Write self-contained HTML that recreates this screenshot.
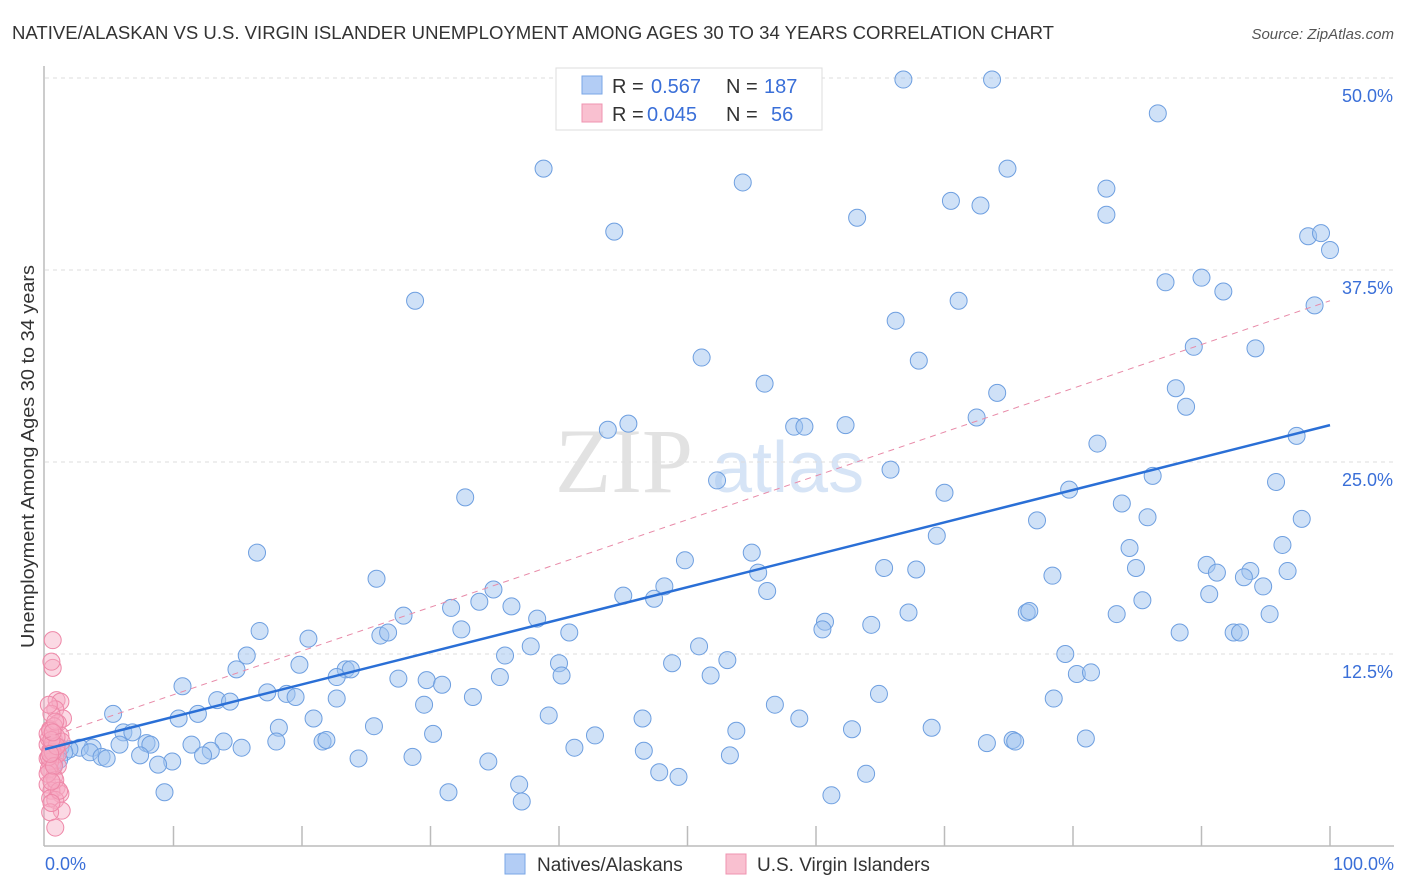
<!DOCTYPE html>
<html><head><meta charset="utf-8"><style>
body{margin:0;background:#fff;font-family:"Liberation Sans",sans-serif}
#wrap{position:relative;width:1406px;height:892px;overflow:hidden}
</style></head><body>
<div id="wrap">
<svg id="chart" width="1406" height="892" xmlns="http://www.w3.org/2000/svg">
<text x="12" y="39" font-size="18" fill="#333" textLength="1042" lengthAdjust="spacingAndGlyphs">NATIVE/ALASKAN VS U.S. VIRGIN ISLANDER UNEMPLOYMENT AMONG AGES 30 TO 34 YEARS CORRELATION CHART</text>
<text x="1394" y="39" font-size="15" fill="#555" font-style="italic" text-anchor="end">Source: ZipAtlas.com</text>
<text transform="translate(34,648) rotate(-90)" font-size="18" fill="#333" textLength="383" lengthAdjust="spacingAndGlyphs">Unemployment Among Ages 30 to 34 years</text>
<g>
<text x="555" y="492" font-size="92" fill="#e2e2e2" font-family="Liberation Serif, serif">ZIP</text>
<text x="712" y="492" font-size="72" fill="#d6e4f6">atlas</text>
</g>
<g id="grid"></g><g id="axes"></g><g id="marks"></g><g id="trends"></g>
<g>
<rect x="556" y="68" width="266" height="62" fill="#fff" stroke="#ddd"/>
<rect x="582" y="76" width="20" height="18" fill="#b3cdf5" stroke="#7aa6e6"/>
<text x="612" y="93" font-size="20" fill="#333">R = </text><text x="651" y="93" font-size="20" fill="#3a6fd8">0.567</text>
<text x="726" y="93" font-size="20" fill="#333">N = </text><text x="764" y="93" font-size="20" fill="#3a6fd8">187</text>
<rect x="582" y="104" width="20" height="18" fill="#f9c0d0" stroke="#ef93b0"/>
<text x="612" y="121" font-size="20" fill="#333">R = </text><text x="647" y="121" font-size="20" fill="#3a6fd8">0.045</text>
<text x="726" y="121" font-size="20" fill="#333">N = </text><text x="771" y="121" font-size="20" fill="#3a6fd8">56</text>
</g>
<g>
<rect x="505" y="854" width="20" height="20" fill="#b3cdf5" stroke="#7aa6e6"/>
<text x="537" y="871" font-size="19" fill="#333">Natives/Alaskans</text>
<rect x="726" y="854" width="20" height="20" fill="#f9c0d0" stroke="#ef93b0"/>
<text x="757" y="871" font-size="19" fill="#333">U.S. Virgin Islanders</text>
</g>
</svg>
</div>
<script>
const yTicks=[12.5,25,37.5,50];
const yTickLabels=["12.5%","25.0%","37.5%","50.0%"];
const xTickValues=[0,10,20,30,40,50,60,70,80,90,100];
const xEndLabels=["0.0%","100.0%"];
const nativesX=[66.8,73.7,86.6,38.8,54.3,74.9,82.6,70.5,72.8,63.2,82.6,44.3,98.3,99.3,100,87.2,90.0,91.7,28.8,71.1,98.8,66.2,89.4,94.2,51.1,68.0,56.0,74.1,88.0,88.8,72.5,45.4,43.8,58.3,59.1,62.3,97.4,81.9,65.8,86.2,52.3,95.8,79.7,32.7,70.0,83.8,85.8,77.2,97.8,69.4,84.4,96.3,16.5,55.0,49.8,65.3,67.8,84.9,78.4,90.4,91.2,93.8,93.3,96.7,55.5,25.8,94.8,48.2,34.9,56.2,90.6,45.0,47.4,33.8,85.4,36.3,31.6,27.9,38.3,67.2,76.4,76.6,83.4,95.3,60.7,60.5,64.3,32.4,16.7,40.8,26.1,26.7,88.3,92.5,93.0,20.5,37.8,50.9,79.4,35.8,15.7,53.1,19.8,40.0,48.8,14.9,23.4,23.8,40.2,80.3,81.4,22.7,27.5,29.7,30.9,35.4,51.8,10.7,17.3,18.8,19.5,64.9,22.7,78.5,13.4,14.4,33.3,29.5,56.8,5.3,11.9,10.4,20.9,39.2,46.5,58.7,25.6,18.2,53.8,62.8,69.0,6.1,6.8,30.2,42.8,81.0,21.6,21.9,13.9,18.0,73.3,75.3,75.5,7.9,8.2,11.4,5.8,15.3,41.2,12.9,3.7,2.7,1.9,1.2,1.5,3.5,4.4,4.8,7.4,12.3,46.6,53.3,24.4,28.6,9.9,8.8,34.5,1.1,0.7,47.8,49.3,63.9,36.9,9.3,31.4,61.2,37.1];
const nativesY=[49.9,49.9,47.7,44.1,43.2,44.1,42.8,42.0,41.7,40.9,41.1,40.0,39.7,39.9,38.8,36.7,37.0,36.1,35.5,35.5,35.2,34.2,32.5,32.4,31.8,31.6,30.1,29.5,29.8,28.6,27.9,27.5,27.1,27.3,27.3,27.4,26.7,26.2,24.5,24.1,23.8,23.7,23.2,22.7,23.0,22.3,21.4,21.2,21.3,20.2,19.4,19.6,19.1,19.1,18.6,18.1,18.0,18.1,17.6,18.3,17.8,17.9,17.5,17.9,17.8,17.4,16.9,16.9,16.7,16.6,16.4,16.3,16.1,15.9,16.0,15.6,15.5,15.0,14.8,15.2,15.2,15.3,15.1,15.1,14.6,14.1,14.4,14.1,14.0,13.9,13.7,13.9,13.9,13.9,13.9,13.5,13.0,13.0,12.5,12.4,12.4,12.1,11.8,11.9,11.9,11.5,11.5,11.5,11.1,11.2,11.3,11.0,10.9,10.8,10.5,11.0,11.1,10.4,10.0,9.9,9.7,9.9,9.6,9.6,9.5,9.4,9.7,9.2,9.2,8.6,8.6,8.3,8.3,8.5,8.3,8.3,7.8,7.7,7.5,7.6,7.7,7.4,7.4,7.3,7.2,7.0,6.8,6.9,6.8,6.8,6.7,6.9,6.8,6.7,6.6,6.6,6.6,6.4,6.4,6.2,6.4,6.4,6.3,6.4,6.1,6.1,5.8,5.7,5.9,5.9,6.2,5.9,5.7,5.8,5.5,5.3,5.5,5.6,5.3,4.8,4.5,4.7,4.0,3.5,3.5,3.3,2.9];
const islandersX=[0.6,0.6,0.5,0.9,1.2,0.8,1.4,0.5,1.0,0.4,1.2,0.7,0.2,0.9,1.3,0.4,0.8,0.2,0.6,1.0,0.4,0.7,0.2,0.9,1.2,0.5,0.4,0.8,1.3,0.4,0.8,0.3,0.6,1.0,0.5,0.2,0.7,0.9,0.4,0.6,0.3,0.8,1.1,0.5,0.3,0.6,0.9,0.4,0.2,0.7,0.5,0.8,0.3,0.6,0.4,0.5];
const islandersY=[13.4,11.6,12.0,9.5,9.4,8.9,8.3,8.6,8.0,7.6,7.2,6.9,6.6,6.4,6.8,6.2,5.9,5.7,5.4,5.2,4.9,4.5,4.0,3.8,3.4,3.6,3.1,3.0,2.3,2.2,1.2,7.0,6.5,6.0,6.3,7.3,7.8,7.1,5.5,6.7,5.0,4.3,3.6,2.8,5.8,6.1,6.5,7.5,4.7,5.2,6.9,8.1,9.2,7.4,6.0,4.2];
const nativesTrend=[6.3,27.4];
const islandersTrend=[7.0,35.5];
const X0=45,X1=1330,Y0=846,YS=15.36;
const sx=v=>X0+(X1-X0)*v/100, sy=v=>Y0-v*YS;
const NS="http://www.w3.org/2000/svg";
function mk(tag,attrs,parent){const e=document.createElementNS(NS,tag);for(const k in attrs)e.setAttribute(k,attrs[k]);document.getElementById(parent).appendChild(e);return e;}
yTicks.forEach((t,i)=>{
 const l=mk('line',{x1:45,x2:1394,y1:sy(t),y2:sy(t),stroke:'#ddd','stroke-dasharray':'4,4'},'grid');
 
 
 const tx=mk('text',{x:1393,y:sy(t)+24,'font-size':18,fill:'#3a6fd8','text-anchor':'end'},'grid');
 tx.textContent=yTickLabels[i];
 
 
});
const ax=mk('line',{x1:44,x2:44,y1:66,y2:846,stroke:'#bbb','stroke-width':1.5},'axes');


const bx=mk('line',{x1:44,x2:1394,y1:846,y2:846,stroke:'#bbb','stroke-width':1.5},'axes');


xTickValues.forEach(v=>{if(v===0)return;
 const t=mk('line',{x1:sx(v),x2:sx(v),y1:826,y2:846,stroke:'#bbb','stroke-width':1.5},'axes');
 
 
});
[[0,'start',45],[100,'end',1394]].forEach((d,i)=>{
 const t=mk('text',{x:d[2],y:870,'font-size':18,fill:'#3a6fd8','text-anchor':d[1]},'axes');
 t.textContent=xEndLabels[i];
 
 
});
nativesX.forEach((x,i)=>{
 const c=mk('circle',{cx:sx(x),cy:sy(nativesY[i]),r:8.5,fill:'rgba(160,195,240,0.5)',stroke:'#6e9fe0','stroke-width':1},'marks');
 
 
});
islandersX.forEach((x,i)=>{
 const c=mk('circle',{cx:sx(x),cy:sy(islandersY[i]),r:8.5,fill:'rgba(247,170,195,0.45)',stroke:'#ee88a8','stroke-width':1},'marks');
 
 
});
const pt=mk('line',{x1:sx(0),y1:sy(islandersTrend[0]),x2:sx(100),y2:sy(islandersTrend[1]),stroke:'#e88aa8','stroke-width':1,'stroke-dasharray':'6,5'},'trends');


const bt=mk('line',{x1:sx(0),y1:sy(nativesTrend[0]),x2:sx(100),y2:sy(nativesTrend[1]),stroke:'#2a6fd6','stroke-width':2.5},'trends');


</script>
</body></html>
